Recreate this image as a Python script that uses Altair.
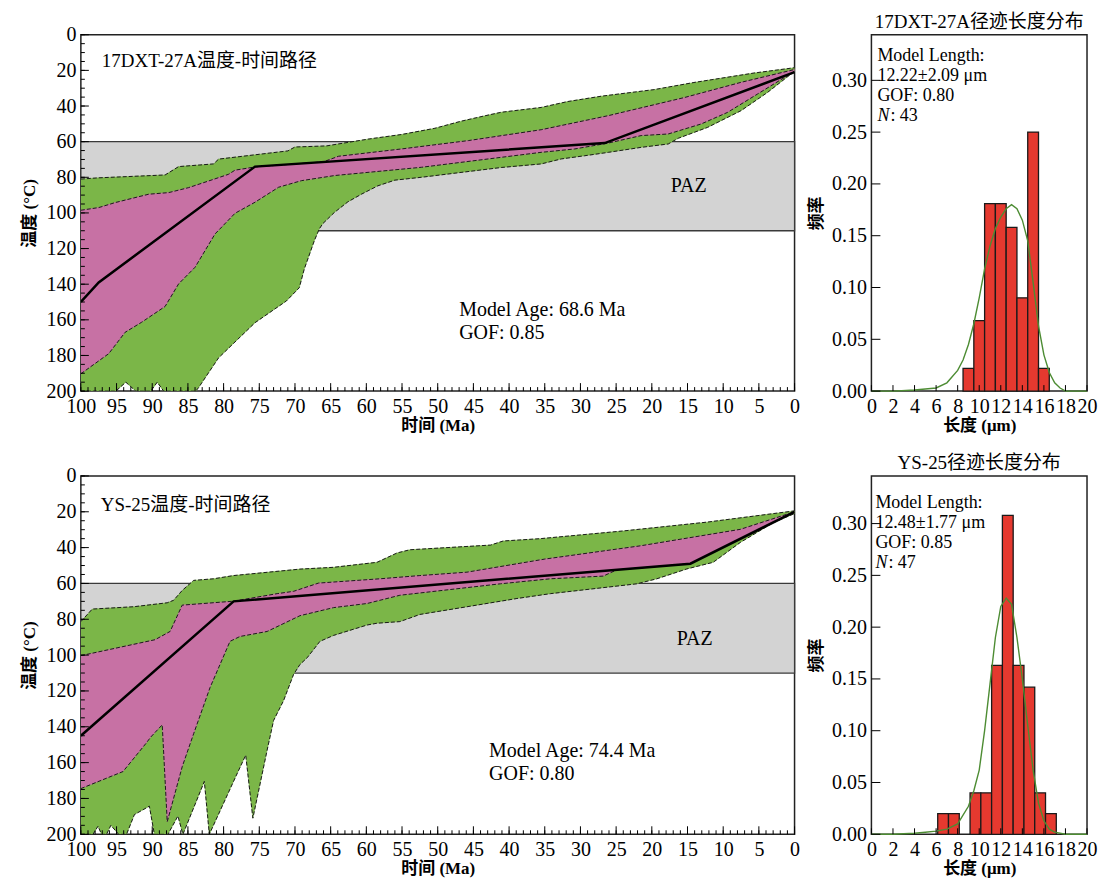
import altair as alt
import pandas as pd

SERIF = "Liberation Serif, Noto Sans CJK SC"
GREEN = "#7bb648"
MAGENTA = "#c771a4"
PAZ_FILL = "#d3d3d3"
BAR_RED = "#e5392f"
CURVE_GREEN = "#4d8c33"

# ---------------- axis values ----------------
time_label_values = list(range(0, 101, 5))
time_tick_values = list(range(0, 101, 1))
temp_label_values = list(range(0, 201, 20))
temp_tick_values = list(range(0, 201, 5))
len_values = list(range(0, 21, 2))
freq_values = [0.0, 0.05, 0.10, 0.15, 0.20, 0.25, 0.30]

paz_time = [100, 0]
paz_temp = [60, 110]

# ---------------- 17DXT-27A thermal history ----------------
a_best_t = [100, 97.5, 75.6, 26.6, 0]
a_best_T = [150, 139, 74, 60.8, 21]

a_acc_up_t = [100, 97.5, 88.2, 86.3, 81.4, 80.7, 71, 70, 65.6, 59.8, 55.1, 50.4, 46.7, 43.4, 41.1, 35.5, 31.8, 27.1, 19.7, 14.1, 5.7, 0]
a_acc_up_T = [81, 80.3, 78.7, 74, 72.5, 69.8, 65.2, 63, 62.4, 58.6, 56, 52.5, 48.5, 45.5, 43.5, 40.8, 37.5, 34.5, 30.8, 26.8, 21.5, 18.5]

a_acc_lo_t = [100, 95.1, 93.7, 92.3, 90.2, 89.3, 88.4, 83.9, 83.5, 80.7, 75.6, 71.2, 69.4, 68.7, 67.3, 66.6, 66.1, 64.5, 62.6, 60.7, 58.4, 56, 52.3, 41.1, 35.5, 32.7, 29.4, 26.1, 21.5, 17.7, 16.3, 12.2, 7.5, 3.8, 0]
a_acc_lo_T = [200, 200, 195, 200, 200, 195, 200, 200, 198, 181.3, 161.6, 149.4, 142, 131.5, 115.7, 109, 106, 99.8, 93.8, 89.5, 84.8, 81.6, 80, 74.5, 72.5, 69.7, 67.9, 66, 63.2, 61.3, 58.1, 52, 42.6, 32.4, 20.5]

a_good_up_t = [100, 97.5, 95.2, 90.5, 87.7, 84.9, 81.3, 79.3, 78.4, 75.6, 66, 63.9, 55.1, 45.7, 35.5, 26.1, 15.4, 7.5, 0]
a_good_up_T = [98.5, 97, 94.2, 89.5, 88.6, 85.8, 81, 78.3, 76, 74.2, 71.3, 68.2, 64.1, 59.4, 53.3, 45.4, 35.2, 26.7, 19.5]

a_good_lo_t = [100, 96.1, 93.8, 91.5, 88.2, 86.3, 84, 81.2, 78.4, 75.6, 72.3, 69.1, 64.4, 52.3, 35.5, 30.8, 26.1, 21.5, 17.7, 13.1, 9.4, 5.2, 0]
a_good_lo_T = [190.3, 179, 167, 161.4, 152.5, 139.8, 130.5, 111.8, 100.2, 94, 85.6, 81.9, 79, 74.4, 66, 64.1, 60.8, 56.6, 55.7, 50.1, 43.6, 33.3, 20.5]

# ---------------- YS-25 thermal history ----------------
b_best_t = [100, 78.6, 14.6, 0]
b_best_T = [145, 70, 49, 20]

b_acc_up_t = [100, 98.4, 92.6, 87.9, 87, 85.8, 84.2, 81.4, 78.6, 69.3, 64.6, 58.5, 55.7, 53.9, 42.6, 40.8, 35.6, 24, 12.3, 0]
b_acc_up_T = [81.3, 74.3, 73, 70.8, 69.4, 63.9, 58.3, 57.4, 55.6, 52, 51, 48.2, 43, 41.2, 38.6, 36.3, 35, 30.7, 25.8, 19.5]

b_acc_lo_t = [100, 98.3, 97.6, 97.1, 96.4, 95.8, 94.7, 93.6, 92.5, 90.4, 89.7, 87.8, 86.4, 85.7, 82.7, 82, 78.3, 76.9, 75.9, 73.9, 73, 71.6, 70.2, 69.3, 68.3, 66.5, 64.6, 59.9, 58.5, 55.3, 52.5, 45.9, 38.9, 34.2, 22.1, 19.3, 15.1, 11.4, 7.6, 3, 0]
b_acc_lo_T = [200, 200, 195.5, 200, 200, 195, 200, 200, 189, 184.3, 200, 200, 189.8, 200, 170.5, 200, 167.8, 155.8, 191, 153, 136.5, 125.4, 110.8, 105.2, 101.5, 92.3, 89, 83.2, 82.2, 81.3, 77.3, 73, 68.4, 65.7, 60.2, 57.4, 51.9, 48.2, 37.1, 26.1, 21]

b_good_up_t = [100, 89.6, 87.5, 85.8, 78.6, 72.5, 70.2, 66.7, 58.1, 55.3, 52.5, 45.9, 35, 21.6, 7.6, 0]
b_good_up_T = [100.3, 91.4, 86.8, 72.1, 69.9, 65.7, 64.4, 59.8, 57.4, 56.5, 55.6, 53.7, 46.4, 39, 29.8, 20]

b_good_lo_t = [100, 94.1, 90.9, 90.2, 88.6, 87.9, 85.8, 84.2, 81.9, 79.1, 77.7, 73.9, 69.3, 64.6, 59.9, 55.3, 41.2, 34.2, 26.8, 24.9, 14.6, 0]
b_good_lo_T = [174.5, 165, 149.4, 145.7, 138.9, 193, 162.3, 143.9, 118.1, 92.3, 89.6, 86.8, 78, 73.5, 71.2, 66.6, 60.2, 57.4, 55.9, 52.4, 49, 20]

# ---------------- track length histograms ----------------
a_bin_start = [8.5, 9.5, 10.5, 11.5, 12.5, 13.5, 14.5, 15.5]
a_bin_end = [9.5, 10.5, 11.5, 12.5, 13.5, 14.5, 15.5, 16.5]
a_freq = [0.022, 0.068, 0.181, 0.181, 0.158, 0.090, 0.250, 0.022]
a_curve_x = [0, 2, 4, 5, 6, 7, 8, 8.5, 9, 9.5, 10, 10.5, 11, 11.5, 12, 12.5, 13, 13.5, 14, 14.5, 15, 15.5, 16, 16.5, 17, 17.5, 18, 20]
a_curve_y = [0, 0, 0.001, 0.002, 0.003, 0.008, 0.02, 0.03, 0.045, 0.065, 0.09, 0.118, 0.14, 0.157, 0.168, 0.176, 0.18, 0.176, 0.165, 0.145, 0.105, 0.063, 0.035, 0.018, 0.008, 0.003, 0, 0]

b_bin_start = [6.15, 7.15, 9.15, 10.15, 11.15, 12.15, 13.15, 14.15, 15.15, 16.15]
b_bin_end = [7.15, 8.15, 10.15, 11.15, 12.15, 13.15, 14.15, 15.15, 16.15, 17.15]
b_freq = [0.020, 0.020, 0.040, 0.040, 0.163, 0.308, 0.163, 0.142, 0.040, 0.020]
b_curve_x = [0, 2, 4, 5, 6, 7, 8, 9, 9.5, 10, 10.5, 11, 11.5, 12, 12.5, 13, 13.5, 14, 14.5, 15, 15.5, 16, 16.5, 17, 18, 20]
b_curve_y = [0, 0, 0.001, 0.002, 0.003, 0.005, 0.01, 0.027, 0.042, 0.062, 0.1, 0.145, 0.19, 0.22, 0.228, 0.222, 0.19, 0.15, 0.105, 0.062, 0.03, 0.013, 0.005, 0.002, 0, 0]

ONE = pd.DataFrame({"k": [0]})


def poly_df(up_t, up_T, lo_t, lo_T):
    t = list(up_t) + list(reversed(lo_t))
    T = list(up_T) + list(reversed(lo_T))
    return pd.DataFrame({"t": t, "T": T, "i": list(range(len(t)))})


def line_df(t, T, seg="s"):
    return pd.DataFrame({"t": t, "T": T, "i": list(range(len(t))), "seg": seg})


def label(text, x, y, size=20, align="left", style="normal", weight="normal"):
    return alt.Chart(ONE).mark_text(
        text=text, align=align, baseline="middle", font=SERIF, fontSize=size,
        fontStyle=style, fontWeight=weight, color="black"
    ).encode(x=alt.value(x), y=alt.value(y))


def xticks(values, scale, H, length):
    return alt.Chart(pd.DataFrame({"v": values})).mark_rule(color="black", strokeWidth=1).encode(
        x=alt.X("v:Q", scale=scale, axis=None), y=alt.value(H), y2=alt.value(H - length))


def yticks(values, scale, length):
    return alt.Chart(pd.DataFrame({"v": values})).mark_rule(color="black", strokeWidth=1).encode(
        y=alt.Y("v:Q", scale=scale, axis=None), x=alt.value(0), x2=alt.value(length))


def axis(values, fmt, title, lab_pad, title_pad):
    return alt.Axis(values=values, format=fmt, labelFont=SERIF, labelFontSize=20,
                    labelColor="black", labelPadding=lab_pad, labelFlush=False, labelOverlap=False,
                    ticks=False, tickSize=0, domain=False, grid=False,
                    title=title, titleFont=SERIF, titleFontSize=17, titleFontWeight="bold",
                    titleColor="black", titlePadding=title_pad)


def tt_panel(W, H, acc_up, acc_lo, good_up, good_lo, best, title, age, gof,
             title_xy, paz_xy, age_xy):
    xs = alt.Scale(domain=[0, 100], reverse=True, nice=False, zero=False)
    ys = alt.Scale(domain=[0, 200], reverse=True, nice=False, zero=False)
    x_lab = axis(time_label_values, "d", "时间 (Ma)", 5, 1)
    y_lab = axis(temp_label_values, "d", "温度 (°C)", 5, 7)

    paz = alt.Chart(pd.DataFrame({"t0": [paz_time[0]], "t1": [paz_time[1]],
                                  "T0": [paz_temp[0]], "T1": [paz_temp[1]]})).mark_rect(
        fill=PAZ_FILL, stroke="#3a3a3a", strokeWidth=1.3
    ).encode(x=alt.X("t0:Q", scale=xs, axis=x_lab), x2="t1:Q",
             y=alt.Y("T0:Q", scale=ys, axis=y_lab), y2="T1:Q")

    def poly(df, color):
        return alt.Chart(df).mark_line(fill=color, stroke=color, strokeWidth=0.5, clip=True).encode(
            x=alt.X("t:Q", scale=xs, axis=None), y=alt.Y("T:Q", scale=ys, axis=None), order="i:Q")

    green = poly(poly_df(acc_up[0], acc_up[1], acc_lo[0], acc_lo[1]), GREEN)
    magenta = poly(poly_df(good_up[0], good_up[1], good_lo[0], good_lo[1]), MAGENTA)

    bdf = pd.concat([line_df(acc_up[0], acc_up[1], "au"), line_df(acc_lo[0], acc_lo[1], "al"),
                     line_df(good_up[0], good_up[1], "gu"), line_df(good_lo[0], good_lo[1], "gl")])
    bounds = alt.Chart(bdf).mark_line(color="#1a1a1a", strokeWidth=1, strokeDash=[4, 2], clip=True).encode(
        x=alt.X("t:Q", scale=xs, axis=None), y=alt.Y("T:Q", scale=ys, axis=None),
        detail="seg:N", order="i:Q")

    bestl = alt.Chart(line_df(best[0], best[1])).mark_line(color="black", strokeWidth=2.5, clip=True).encode(
        x=alt.X("t:Q", scale=xs, axis=None), y=alt.Y("T:Q", scale=ys, axis=None), order="i:Q")

    ticks = [xticks(time_tick_values, xs, H, 4), xticks(time_label_values, xs, H, 8),
             yticks(temp_tick_values, ys, 4), yticks(temp_label_values, ys, 8)]

    texts = [
        label(title, title_xy[0], title_xy[1], size=19),
        label("PAZ", paz_xy[0], paz_xy[1], size=20),
        label(age, age_xy[0], age_xy[1], size=20),
        label(gof, age_xy[0], age_xy[1] + 23, size=20),
    ]
    return alt.layer(paz, green, magenta, bounds, bestl, *ticks, *texts).resolve_axis(
        x="independent", y="independent").properties(width=W, height=H)


def hist_panel(W, H, ymax, title, b0, b1, freq, cx, cy, stats, n_text, tx, ty):
    xs = alt.Scale(domain=[0, 20], nice=False, zero=False)
    ys = alt.Scale(domain=[0, ymax], nice=False, zero=True)
    x_lab = axis(len_values, "d", "长度 (μm)", 5, 1)
    y_lab = axis(freq_values, ".2f", "频率", 5, 6)
    bars = alt.Chart(pd.DataFrame({"b0": b0, "b1": b1, "f": freq})).mark_rect(
        fill=BAR_RED, stroke="#1a1a1a", strokeWidth=1.3
    ).encode(x=alt.X("b0:Q", scale=xs, axis=x_lab), x2="b1:Q",
             y=alt.Y("f:Q", scale=ys, axis=y_lab), y2=alt.datum(0))
    curve = alt.Chart(pd.DataFrame({"x": cx, "y": cy, "i": list(range(len(cx)))})).mark_line(
        color=CURVE_GREEN, strokeWidth=1.4
    ).encode(x=alt.X("x:Q", scale=xs, axis=None), y=alt.Y("y:Q", scale=ys, axis=None), order="i:Q")
    ticks = [xticks(len_values, xs, H, 6), yticks(freq_values, ys, 9)]
    texts = [label(s, tx, ty + 20 * k, size=18) for k, s in enumerate(stats)]
    texts.append(label("N", tx, ty + 60, size=18, style="italic"))
    texts.append(label(n_text, tx + 13, ty + 60, size=18))
    return alt.layer(bars, curve, *ticks, *texts).resolve_axis(
        x="independent", y="independent").properties(
        width=W, height=H,
        title=alt.Title(title, font=SERIF, fontSize=19, fontWeight="normal", color="black", offset=3))


tl = tt_panel(715, 357, (a_acc_up_t, a_acc_up_T), (a_acc_lo_t, a_acc_lo_T),
              (a_good_up_t, a_good_up_T), (a_good_lo_t, a_good_lo_T), (a_best_t, a_best_T),
              "17DXT-27A温度-时间路径", "Model Age: 68.6 Ma", "GOF: 0.85",
              (21, 26), (591, 152), (379, 276))
bl = tt_panel(715, 359, (b_acc_up_t, b_acc_up_T), (b_acc_lo_t, b_acc_lo_T),
              (b_good_up_t, b_good_up_T), (b_good_lo_t, b_good_lo_T), (b_best_t, b_best_T),
              "YS-25温度-时间路径", "Model Age: 74.4 Ma", "GOF: 0.80",
              (20, 29), (597, 163), (409, 276))
tr = hist_panel(216, 357, 0.344, "17DXT-27A径迹长度分布", a_bin_start, a_bin_end, a_freq,
                a_curve_x, a_curve_y, ["Model Length:", "12.22±2.09 μm", "GOF: 0.80"], ": 43", 6, 21)
br = hist_panel(216, 359, 0.346, "YS-25径迹长度分布", b_bin_start, b_bin_end, b_freq,
                b_curve_x, b_curve_y, ["Model Length:", "12.48±1.77 μm", "GOF: 0.85"], ": 47", 4, 27)

chart = alt.concat(tl, tr, bl, br, columns=2, spacing={"row": 85, "column": 77}, bounds="flush").properties(
    padding={"left": 12, "top": 3, "right": 0, "bottom": 0}, background="white"
).configure_view(stroke="#222222", strokeWidth=1.5)

chart.save("out.html", embed_options={"renderer": "svg", "actions": False})
